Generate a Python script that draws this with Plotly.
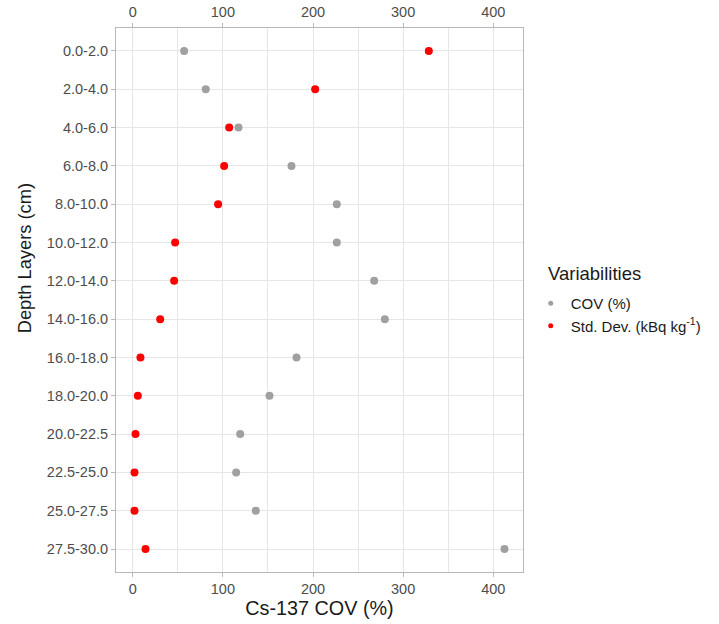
import plotly.graph_objects as go

# Depth layers (cm), top to bottom
depth_layers = [
    "0.0-2.0", "2.0-4.0", "4.0-6.0", "6.0-8.0", "8.0-10.0", "10.0-12.0",
    "12.0-14.0", "14.0-16.0", "16.0-18.0", "18.0-20.0", "20.0-22.5",
    "22.5-25.0", "25.0-27.5", "27.5-30.0",
]

# Coefficient of variation of Cs-137 (%)
cov_pct = [57.0, 81.0, 117.3, 176.1, 226.4, 226.4, 267.9, 279.7,
           181.7, 151.7, 119.2, 114.7, 136.5, 412.5]

# Standard deviation of Cs-137 (kBq kg-1)
std_dev = [328.5, 202.4, 107.0, 101.4, 94.7, 47.0, 45.9, 30.4,
           8.5, 5.6, 3.0, 1.9, 1.9, 14.1]

series_names = ["COV (%)", "Std. Dev. (kBq kg<sup>-1</sup>)"]
legend_title = "Variabilities"
x_title = "Cs-137 COV (%)"
y_title = "Depth Layers (cm)"
x_ticks = [0, 100, 200, 300, 400]

FONT = "Liberation Sans, Arial, sans-serif"
GREY_PT = "#a0a0a0"
RED_PT = "#ff0000"
GRID = "#e6e6e6"
FRAME = "#b8b8b8"
TICK_TXT = "#4d4d4d"
TITLE_TXT = "#1a1a1a"

fig = go.Figure()

for vals, color, name in [(cov_pct, GREY_PT, series_names[0]),
                          (std_dev, RED_PT, series_names[1])]:
    fig.add_trace(go.Scatter(
        x=vals, y=depth_layers, mode="markers", name=name,
        marker=dict(color=color, size=8, line=dict(width=0)),
        legendgroup=name, showlegend=False,
    ))
    # smaller key symbol for the legend
    fig.add_trace(go.Scatter(
        x=[None], y=[None], mode="markers", name=name,
        marker=dict(color=color, size=5, line=dict(width=0)),
        legendgroup=name, showlegend=True,
    ))

all_vals = cov_pct + std_dev
lo, hi = min(all_vals), max(all_vals)
pad = 0.05 * (hi - lo)
x_range = [lo - pad, hi + pad]
n = len(depth_layers)

common_x = dict(
    range=x_range, tickmode="array", tickvals=x_ticks,
    ticktext=[str(v) for v in x_ticks],
    tickfont=dict(family=FONT, size=14.5, color=TICK_TXT),
    ticks="outside", ticklen=4, tickcolor=FRAME, tickwidth=1,
    zeroline=False, automargin=False,
)

fig.update_layout(
    width=719, height=624,
    margin=dict(l=116, r=196, t=27.5, b=52),
    paper_bgcolor="white", plot_bgcolor="white",
    font=dict(family=FONT, color=TITLE_TXT),
    xaxis=dict(
        **common_x,
        showgrid=True, gridcolor=GRID, gridwidth=1.2,
        minor=dict(dtick=50, tick0=0, showgrid=True, gridcolor=GRID, gridwidth=1.2),
        showline=True, linecolor=FRAME, linewidth=1, mirror=True,
        title=dict(text=x_title, font=dict(family=FONT, size=19.8, color=TITLE_TXT),
                   standoff=1),
    ),
    xaxis2=dict(
        **common_x, overlaying="x", side="top", matches="x",
        showgrid=False, showline=False,
    ),
    yaxis=dict(
        type="category", categoryorder="array", categoryarray=depth_layers,
        range=[n - 0.4, -0.6], automargin=False,
        tickfont=dict(family=FONT, size=14.5, color=TICK_TXT),
        ticks="outside", ticklen=4, tickcolor=FRAME, tickwidth=1,
        showgrid=True, gridcolor=GRID, gridwidth=1.2,
        showline=True, linecolor=FRAME, linewidth=1, mirror=True,
    ),
    legend=dict(
        x=1.019, y=0.524, xanchor="left", yanchor="top",
        font=dict(family=FONT, size=15, color=TITLE_TXT),
        itemwidth=30, tracegroupgap=0, bgcolor="rgba(0,0,0,0)",
    ),
    annotations=[
        dict(text=legend_title, xref="paper", yref="paper",
             x=1.0565, y=0.549, xanchor="left", yanchor="middle", showarrow=False,
             font=dict(family=FONT, size=18.5, color=TITLE_TXT)),
        dict(text=y_title, xref="paper", yref="paper", textangle=-90,
             x=-0.226, y=0.5767, xanchor="center", yanchor="middle", showarrow=False,
             font=dict(family=FONT, size=18.3, color=TITLE_TXT)),
    ],
)

# invisible anchor so the top axis is rendered
fig.add_trace(go.Scatter(x=[x_range[0]], y=[depth_layers[0]], xaxis="x2",
                         mode="markers", marker=dict(opacity=0), showlegend=False,
                         hoverinfo="skip"))

fig.write_html("out.html")
